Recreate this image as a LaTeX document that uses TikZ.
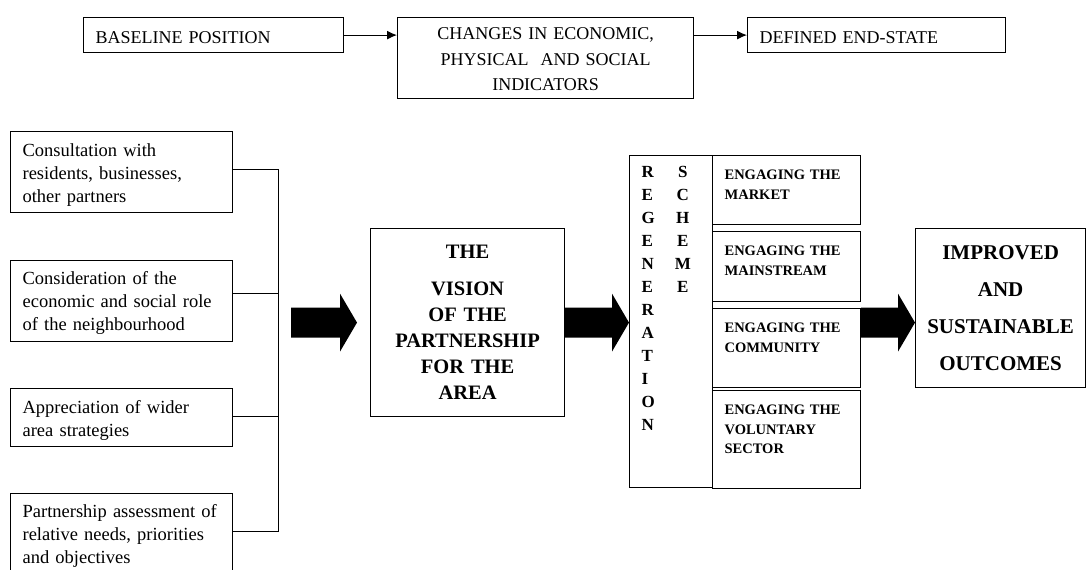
\documentclass[tikz,border=0pt]{standalone}
\usepackage{fontspec}
\setmainfont{Liberation Serif}
\usetikzlibrary{positioning,arrows.meta,calc}

\tikzset{
    topbox/.style={
        draw,
        line width=1.2pt,
        anchor=north west,
        align=left,
        inner xsep=12pt,
        inner ysep=0pt,
        font=\fontsize{18}{25.5}\selectfont
    },
    leftbox/.style={
        draw,
        line width=1.2pt,
        anchor=north west,
        align=left,
        text width=198pt,
        inner xsep=12pt,
        inner ysep=0pt,
        font=\fontsize{18.5}{23}\selectfont
    },
    bigbox/.style={
        draw,
        line width=1.2pt,
        anchor=north west,
        align=center,
        inner xsep=5pt,
        font=\fontsize{20.5}{26}\selectfont\bfseries
    },
    engage/.style={
        draw,
        line width=1.2pt,
        anchor=north west,
        align=left,
        text width=124pt,
        inner xsep=12pt,
        inner ysep=0pt,
        text height=24pt,
        font=\fontsize{14.5}{19.5}\selectfont\bfseries
    },
    arrow/.style={->, line width=1.2pt},
    link/.style={line width=1pt},
    fatarrow/.style={
        fill=black,
        draw=none,
        to path={([yshift=15pt]\tikztostart) -- ([xshift=-17pt,yshift=15pt]\tikztotarget)
            -- ([xshift=-17pt,yshift=29pt]\tikztotarget) -- (\tikztotarget)
            -- ([xshift=-17pt,yshift=-29pt]\tikztotarget) -- ([xshift=-17pt,yshift=-15pt]\tikztotarget)
            -- ([yshift=-15pt]\tikztostart) -- cycle}
    }
}

\begin{document}
\begin{tikzpicture}[x=1pt, y=-1pt, >={Latex[length=10pt,width=9pt]}]

\useasboundingbox (0,0) rectangle (1087,570);

% TOP ROW
\node[topbox, text width=236pt, text height=26pt, text depth=9pt] (baseline) at (83,17)
{BASELINE POSITION};

\node[topbox, text width=272pt, align=center, text height=22pt, text depth=59pt] (changes) at (397,17)
{CHANGES IN ECONOMIC,\\PHYSICAL\ \ AND SOCIAL\\INDICATORS};

\node[topbox, text width=234pt, text height=26pt, text depth=9pt] (endstate) at (747,17)
{DEFINED END-STATE};

\draw[arrow] (baseline.east) -- (baseline.east -| changes.west);
\draw[arrow] (changes.east |- endstate.west) -- (endstate.west);

% LEFT COLUMN
\node[leftbox, text height=25pt, text depth=56pt] (consult) at (10,131)
{Consultation with\\residents, businesses,\\other partners};

\node[leftbox, text height=24pt, text depth=57pt] (consider) at (10,260)
{Consideration of the\\economic and social role\\of the neighbourhood};

\node[leftbox, text height=25pt, text depth=33pt] (wider) at (10,388)
{Appreciation of wider\\area strategies};

\node[leftbox, text height=24pt, text depth=61pt] (assess) at (10,493)
{Partnership assessment of\\relative needs, priorities\\and objectives};

\coordinate (bus) at (278,0);
\draw[link] ($(consult.north east)+(0,38)$) -- ($(bus |- consult.north east)+(0,38)$)
    -- ($(bus |- assess.north east)+(0,38)$) -- ($(assess.north east)+(0,38)$);
\draw[link] ($(consider.north east)+(0,33)$) -- ($(bus |- consider.north east)+(0,33)$);
\draw[link] ($(wider.north east)+(0,28)$) -- ($(bus |- wider.north east)+(0,28)$);

% VISION
\node[bigbox, minimum width=194pt, minimum height=188pt, text width=180pt] (vision) at (370,228)
{THE\\[11pt]VISION\\OF THE\\PARTNERSHIP\\FOR THE\\AREA};

% REGENERATION SCHEME
\node[draw, line width=1.2pt, anchor=north west, align=left, text width=59pt,
      inner xsep=12pt, inner ysep=0pt, text height=22pt, text depth=310pt,
      font=\fontsize{17}{23}\selectfont\bfseries] (regen) at (629,155)
{\begin{tabular}[t]{@{}l@{\hspace{20pt}}c@{}}
R & S\\ E & C\\ G & H\\ E & E\\ N & M\\ E & E\\
R & \\ A & \\ T & \\ I & \\ O & \\ N &
\end{tabular}};

\node[engage, text depth=45pt] (market) at (712,155)
{ENGAGING THE\\MARKET};
\node[engage, text depth=46pt] (mainstream) at (712,231)
{ENGAGING THE\\MAINSTREAM};
\node[engage, text depth=55pt] (community) at (712,308)
{ENGAGING THE\\COMMUNITY};
\node[engage, text depth=74pt] (voluntary) at (712,390)
{ENGAGING THE\\VOLUNTARY\\SECTOR};

% OUTCOMES
\node[bigbox, minimum width=170pt, minimum height=159pt, text width=160pt,
      font=\fontsize{21}{37}\selectfont\bfseries] (improved) at (915,228)
{IMPROVED\\AND\\SUSTAINABLE\\OUTCOMES};

% BLOCK ARROWS
\coordinate (a1s) at ($(bus |- vision.west)+(13,0)$);
\coordinate (a1e) at ($(vision.west)+(-13,0)$);
\coordinate (a2e) at (regen.west |- vision.east);
\coordinate (a3s) at (community.east |- vision.east);
\coordinate (a3e) at (improved.west |- vision.east);

\path[fatarrow] (a1s) to (a1e);
\path[fatarrow] (vision.east) to (a2e);
\path[fatarrow] (a3s) to (a3e);

\end{tikzpicture}
\end{document}
